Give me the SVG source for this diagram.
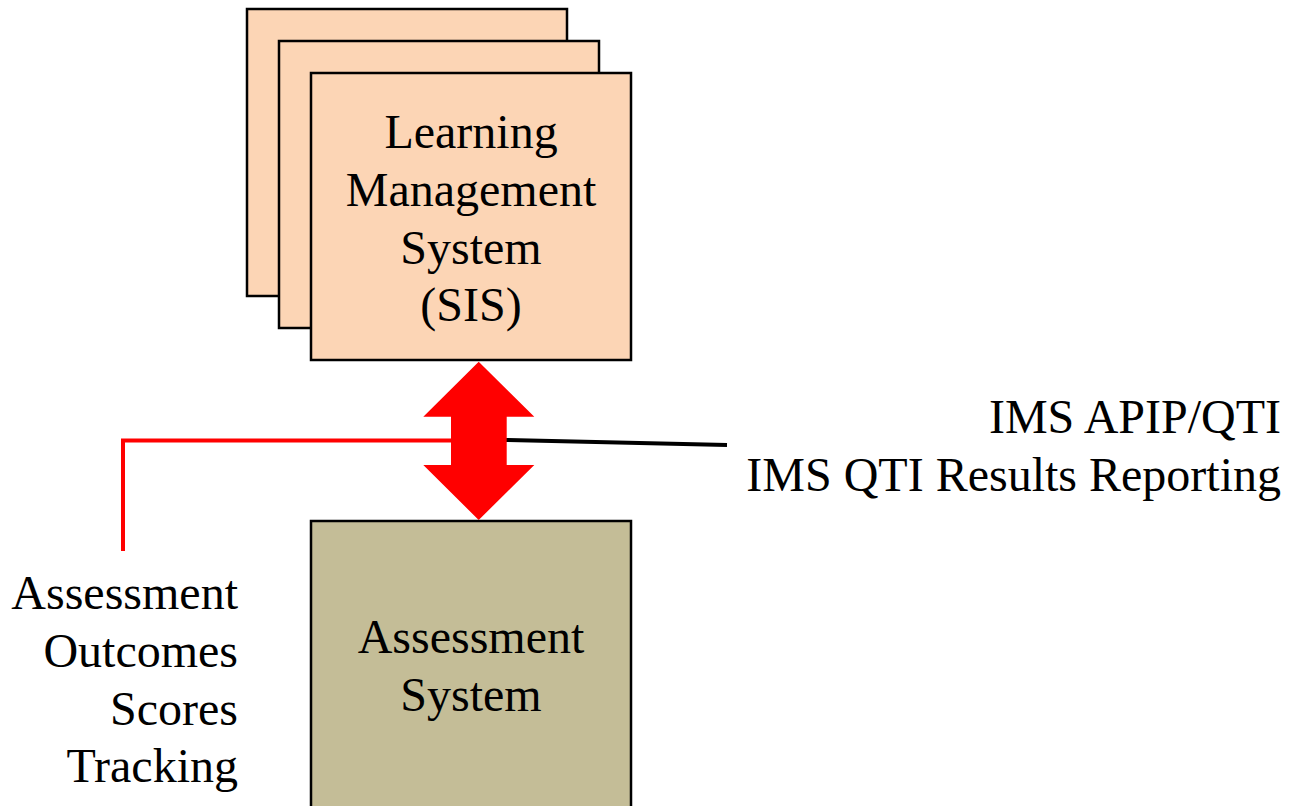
<svg xmlns="http://www.w3.org/2000/svg" width="1295" height="806" viewBox="0 0 1295 806">
<style>
.lms{fill:#FCD5B5;stroke:#000;stroke-width:2.5}
.as{fill:#C4BD97;stroke:#000;stroke-width:2.5}
text{font-family:"Liberation Serif","Times New Roman",serif;font-size:48px;fill:#000}
.c{text-anchor:middle}
.r{text-anchor:end}
</style>
<rect width="1295" height="806" fill="#fff"/>
<g id="lms">
<rect class="lms" x="247" y="9" width="320" height="287"/>
<rect class="lms" x="279" y="41" width="320" height="287"/>
<rect class="lms" x="311" y="73" width="320" height="287"/>
<text class="c" x="471" y="148">Learning</text>
<text class="c" x="471" y="206">Management</text>
<text class="c" x="471" y="264">System</text>
<text class="c" x="471" y="321">(SIS)</text>
</g>
<g id="assessment">
<rect class="as" x="311" y="521" width="320" height="300"/>
<text class="c" x="471" y="653">Assessment</text>
<text class="c" x="471" y="711">System</text>
</g>
<g id="connectors">
<polyline points="123,551 123,440.5 452,440.5" fill="none" stroke="#FF0000" stroke-width="4"/>
<line x1="506" y1="440" x2="727" y2="445" stroke="#000" stroke-width="4"/>
<polygon points="478.7,361.7 534.3,416.7 506.7,416.7 506.7,465 534.3,465 478.7,520 423.3,465 451,465 451,416.7 423.3,416.7" fill="#FF0000"/>
</g>
<g id="labels">
<text class="r" x="1281" y="433">IMS APIP/QTI</text>
<text class="r" x="1281" y="491">IMS QTI Results Reporting</text>
<text class="r" x="238" y="609">Assessment</text>
<text class="r" x="238" y="667">Outcomes</text>
<text class="r" x="238" y="725">Scores</text>
<text class="r" x="238" y="782">Tracking</text>
</g>
</svg>
